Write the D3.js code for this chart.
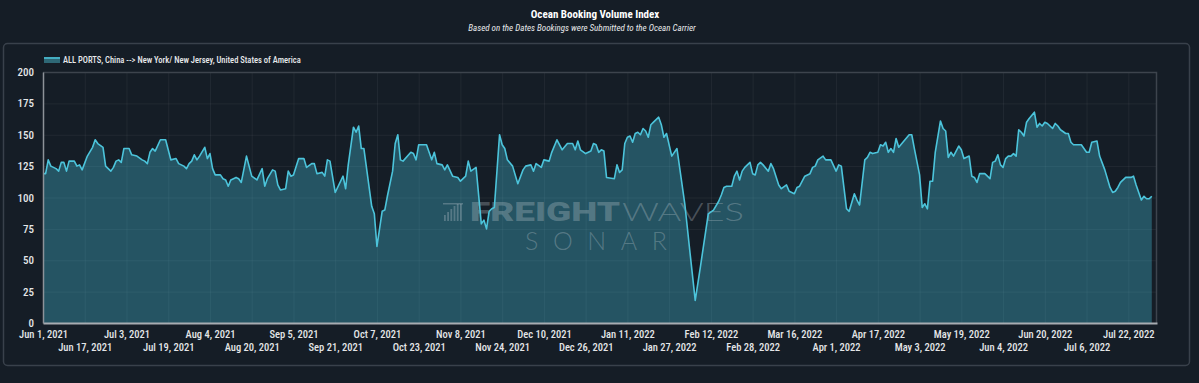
<!DOCTYPE html>
<html>
<head>
<meta charset="utf-8">
<script src="https://d3js.org/d3.v7.min.js"></script>
<style>
  html, body { margin: 0; padding: 0; background: #151d26; }
  svg { display: block; }
  text { font-family: "Roboto Condensed", "Liberation Sans Narrow", Roboto, sans-serif; }
  .grid line { stroke: #ffffff; stroke-opacity: 0.055; }
  .grid path { display: none; }
  .axis text { fill: #e4e6e8; font-size: 10.5px; font-weight: 500; }
</style>
</head>
<body>
<div id="chart"></div>
<script>
// series: days since Jun 1, 2021 and index value
var startDate = new Date(2021, 5, 1);
var dayOffsets = [
  0, 1, 2, 3, 5, 6, 7, 8, 9, 10, 12, 13, 14, 15, 17, 19, 20, 21, 23, 24, 26, 27, 28, 29, 30, 31, 33, 34, 36, 38,
  39, 40, 41, 42, 43, 45, 47, 48, 49, 51, 52, 53, 54, 55, 56, 57, 58, 59, 60, 62, 63, 64, 65, 66, 68, 69, 70, 71, 72, 74,
  75, 76, 78, 80, 82, 84,
  85, 86, 88, 89, 90, 91, 93, 94, 95, 96, 98, 100, 101, 103, 104, 105, 107, 108, 109, 110, 112, 115, 116, 117, 119, 120, 121, 122, 123, 126,
  127, 128, 130, 131, 132, 134, 135, 136, 137, 138, 141, 142, 143, 144, 145, 147, 148, 149, 150, 151, 153, 154, 155, 157, 159, 160, 162, 163, 164, 166,
  168, 169, 170, 171, 172, 173, 175, 176, 177, 178, 180, 182, 184, 185, 187, 188, 189, 191, 192, 194, 195, 197, 199, 201, 203, 204, 205, 206, 208, 210,
  211, 212, 213, 214, 215, 216, 219, 220, 221, 222, 223, 224, 225, 226, 227, 228, 229, 230, 231, 232, 233, 234, 236, 237, 238, 239, 241, 243, 246, 248,
  250, 252,
  255, 257, 259, 260, 261, 262, 264, 265, 266, 267, 268, 269, 271, 272, 273, 274, 275, 276, 278, 279, 280, 282, 283, 285, 286, 288, 289, 290, 291, 292,
  294, 295, 296, 297, 299, 300, 302, 304, 305, 306, 308, 309, 311, 312, 313, 315, 316, 317, 318, 320, 321, 322, 323, 324, 325, 326, 327, 328, 330, 332,
  333, 334, 336, 337, 338, 339,
  340, 341, 342, 344, 345, 346, 347, 348, 349, 351, 352, 353, 355, 356, 357, 358, 359, 361, 363, 364, 365, 366, 367, 368, 369, 370, 371, 372, 373, 374,
  375, 376, 377, 378, 380, 381, 382, 383, 384, 385, 387, 388, 389, 390, 392, 393, 394, 395, 398, 400, 401, 402, 404, 405, 407, 409, 410, 411, 412, 413,
  415, 417, 418, 419, 421, 422, 423, 424, 425
];
var bookingIndex = [
  119, 119, 130, 125, 123, 121, 128, 128, 121, 129, 129, 125, 126, 122, 133, 140, 146, 143, 140, 125, 121, 124, 129, 130, 128, 139, 139, 134, 133, 130,
  129, 127, 136, 139, 137, 146, 146, 138, 130, 131, 127, 126, 125, 123, 127, 129, 134, 130, 133, 140, 131, 135, 123, 118, 118, 115, 114, 109, 114, 116,
  115, 112, 133, 117, 114, 123,
  109, 115, 122, 121, 110, 106, 107, 121, 117, 118, 131, 131, 124, 127, 127, 119, 120, 117, 130, 129, 104, 117, 107, 126, 156, 152, 157, 139, 139, 93,
  87, 61, 89, 90, 101, 121, 143, 150, 130, 129, 136, 135, 130, 142, 142, 142, 136, 130, 136, 127, 126, 122, 126, 117, 116, 113, 117, 129, 121, 124,
  79, 82, 75, 89, 91, 92, 150, 142, 139, 130, 125, 111, 122, 125, 126, 121, 127, 124, 130, 129, 136, 146, 138, 143, 143, 138, 145, 138, 135, 137,
  143, 142, 136, 138, 137, 116, 115, 126, 120, 122, 143, 148, 149, 144, 151, 152, 150, 155, 153, 148, 158, 160, 164, 158, 148, 151, 133, 139, 95, 56,
  18, 45,
  87, 90, 97, 102, 108, 109, 109, 117, 121, 114, 121, 124, 128, 119, 118, 126, 128, 126, 121, 127, 123, 110, 107, 110, 105, 103, 108, 109, 113, 117,
  119, 124, 125, 130, 133, 130, 130, 121, 126, 125, 91, 89, 103, 98, 94, 130, 132, 136, 135, 136, 142, 141, 144, 136, 139, 136, 147, 140, 145, 150,
  150, 139, 118, 92, 95, 91,
  113, 113, 136, 161, 155, 153, 132, 136, 133, 141, 138, 131, 133, 117, 116, 112, 119, 119, 115, 128, 129, 134, 126, 124, 131, 133, 133, 135, 133, 154,
  152, 149, 160, 163, 168, 156, 159, 157, 160, 159, 155, 159, 157, 154, 151, 151, 144, 142, 142, 136, 136, 144, 145, 133, 122, 108, 104, 105, 108, 112,
  116, 116, 117, 110, 98, 101, 99, 99, 101
];
var yTicks = [0, 25, 50, 75, 100, 125, 150, 175, 200];
var xTickLabels = [
  "Jun 1, 2021", "Jun 17, 2021", "Jul 3, 2021", "Jul 19, 2021", "Aug 4, 2021", "Aug 20, 2021", "Sep 5, 2021",
  "Sep 21, 2021", "Oct 7, 2021", "Oct 23, 2021", "Nov 8, 2021", "Nov 24, 2021", "Dec 10, 2021", "Dec 26, 2021",
  "Jan 11, 2022", "Jan 27, 2022", "Feb 12, 2022", "Feb 28, 2022", "Mar 16, 2022", "Apr 1, 2022", "Apr 17, 2022",
  "May 3, 2022", "May 19, 2022", "Jun 4, 2022", "Jun 20, 2022", "Jul 6, 2022", "Jul 22, 2022"
];
var seriesName = "ALL PORTS, China --> New York/ New Jersey, United States of America";

var W = 1199, H = 383;
var margin = {top: 72, right: 42, bottom: 60, left: 43},
    width = W - margin.left - margin.right,
    height = H - margin.top - margin.bottom;

var parseTick = d3.timeParse("%b %d, %Y");
var tickDates = xTickLabels.map(parseTick);
var data = dayOffsets.map(function(d, i) {
  return {date: d3.timeDay.offset(startDate, d), value: bookingIndex[i]};
});

var svg = d3.select("#chart").append("svg")
    .attr("width", W)
    .attr("height", H);

// titles
svg.append("text")
    .attr("x", 595).attr("y", 18)
    .attr("text-anchor", "middle")
    .style("font-size", "11px").style("font-weight", "bold")
    .style("fill", "#ffffff")
    .text("Ocean Booking Volume Index");
svg.append("text")
    .attr("x", 582).attr("y", 31)
    .attr("text-anchor", "middle")
    .style("font-size", "9px").style("font-style", "italic")
    .style("fill", "#e8eaec")
    .text("Based on the Dates Bookings were Submitted to the Ocean Carrier");

// panel frame
svg.append("rect")
    .attr("x", 3.5).attr("y", 43.5)
    .attr("width", 1186).attr("height", 322)
    .attr("rx", 4)
    .attr("fill", "none")
    .attr("stroke", "#39414b")
    .attr("stroke-width", 1.5);

// legend
svg.append("rect")
    .attr("x", 44).attr("y", 57)
    .attr("width", 16).attr("height", 6)
    .attr("fill", "#2e6876");
svg.append("line")
    .attr("x1", 44).attr("x2", 60).attr("y1", 58).attr("y2", 58)
    .attr("stroke", "#4cc4db").attr("stroke-width", 1.5);
svg.append("text")
    .attr("x", 63).attr("y", 62.5)
    .style("font-size", "8.5px").style("font-weight", 500)
    .style("fill", "#e8eaec")
    .text(seriesName);

var g = svg.append("g")
    .attr("transform", "translate(" + margin.left + "," + margin.top + ")");

var x = d3.scaleTime()
    .domain([startDate, new Date(2022, 7, 2)])
    .range([0, width]);
var y = d3.scaleLinear()
    .domain([0, 200])
    .range([height, 0]);

// grid
g.append("g")
    .attr("class", "grid")
    .attr("transform", "translate(0," + height + ")")
    .call(d3.axisBottom(x).tickValues(tickDates).tickSize(-height).tickFormat(""));
g.append("g")
    .attr("class", "grid")
    .call(d3.axisLeft(y).tickValues(yTicks).tickSize(-width).tickFormat(""));

// plot frame (top / right)
g.append("path")
    .attr("d", "M0,0.5H" + (width - 0.5) + "V" + height)
    .attr("fill", "none")
    .attr("stroke", "#3d444d")
    .attr("stroke-width", 1.5);

// area + line
var area = d3.area()
    .x(function(d) { return x(d.date); })
    .y0(y(0))
    .y1(function(d) { return y(d.value); });
var line = d3.line()
    .x(function(d) { return x(d.date); })
    .y(function(d) { return y(d.value); });

g.append("path")
    .datum(data)
    .attr("d", area)
    .attr("fill", "#46bed7")
    .attr("fill-opacity", 0.35);

// watermark
var wm = g.append("g")
    .attr("fill", "#c9d2d7")
    .attr("fill-opacity", 0.3);
var barH = [6, 9, 12, 15, 17, 17];
barH.forEach(function(h, i) {
  wm.append("rect")
    .attr("x", 401 + i * 3.2).attr("y", 149 - h)
    .attr("width", 1.8).attr("height", h);
});
wm.append("rect").attr("x", 400).attr("y", 131).attr("width", 20).attr("height", 1.5);
wm.append("text")
    .attr("x", 427).attr("y", 149)
    .attr("textLength", 150).attr("lengthAdjust", "spacingAndGlyphs")
    .style("font-family", "Roboto, sans-serif")
    .style("font-size", "25px").style("font-weight", 900)
    .text("FREIGHT");
wm.append("text")
    .attr("x", 579).attr("y", 149)
    .attr("textLength", 122).attr("lengthAdjust", "spacingAndGlyphs")
    .style("font-family", "Lato, Roboto, sans-serif")
    .style("font-size", "25px").style("font-weight", 300)
    .text("WAVES");
wm.append("text")
    .attr("x", 482).attr("y", 178)
    .attr("textLength", 142).attr("lengthAdjust", "spacing")
    .style("font-family", "Lato, Roboto, sans-serif")
    .style("font-size", "25px").style("font-weight", 300)
    .text("SONAR");

g.append("path")
    .datum(data)
    .attr("d", line)
    .attr("fill", "none")
    .attr("stroke", "#4cc4db")
    .attr("stroke-width", 1.6)
    .attr("stroke-linejoin", "round");

// axes
var xAxis = g.append("g")
    .attr("class", "axis")
    .attr("transform", "translate(0," + height + ")")
    .call(d3.axisBottom(x).tickValues(tickDates).tickSize(0).tickPadding(8)
      .tickFormat(d3.timeFormat("%b %-d, %Y")));
xAxis.select(".domain").attr("stroke", "#a7acb1").attr("stroke-width", 2);
xAxis.selectAll(".tick text")
    .attr("dy", function(d, i) { return i % 2 ? "1.95em" : "0.71em"; });

var yAxis = g.append("g")
    .attr("class", "axis")
    .call(d3.axisLeft(y).tickValues(yTicks).tickSize(0).tickPadding(9));
yAxis.select(".domain").attr("stroke", "#8d9298").attr("stroke-width", 1.5);
yAxis.selectAll(".tick text").style("font-size", "11px");
</script>
</body>
</html>
